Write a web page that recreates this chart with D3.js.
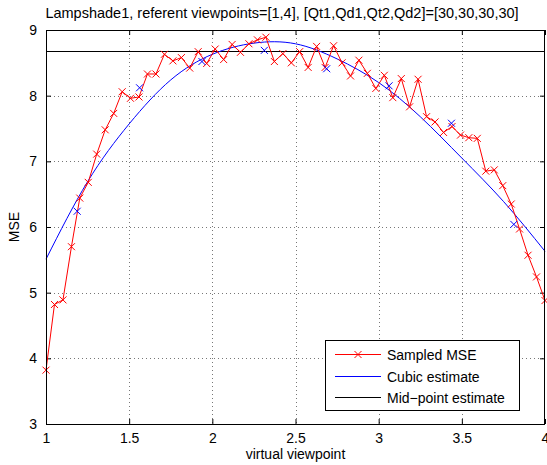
<!DOCTYPE html>
<html>
<head>
<meta charset="utf-8">
<script src="https://d3js.org/d3.v7.min.js"></script>
<style>
body { margin: 0; background: #fff; }
text { font-family: "Liberation Sans", Arial, sans-serif; fill: #000; }
</style>
</head>
<body>
<svg id="chart" width="547" height="465"></svg>
<script>
// sampled viewpoints (60 samples between 1 and 4)
var viewpoints = [1.000, 1.051, 1.102, 1.153, 1.203, 1.254, 1.305, 1.356, 1.407, 1.458,
                  1.508, 1.559, 1.610, 1.661, 1.712, 1.763, 1.814, 1.864, 1.915, 1.966,
                  2.017, 2.068, 2.119, 2.169, 2.220, 2.271, 2.322, 2.373, 2.424, 2.475,
                  2.525, 2.576, 2.627, 2.678, 2.729, 2.780, 2.831, 2.881, 2.932, 2.983,
                  3.034, 3.085, 3.136, 3.186, 3.237, 3.288, 3.339, 3.390, 3.441, 3.492,
                  3.542, 3.593, 3.644, 3.695, 3.746, 3.797, 3.847, 3.898, 3.949, 4.000];
var sampledMSE = [3.82, 4.82, 4.89, 5.70, 6.44, 6.68, 7.11, 7.48, 7.73, 8.06,
                  7.96, 7.98, 8.33, 8.33, 8.63, 8.53, 8.58, 8.42, 8.67, 8.49,
                  8.71, 8.55, 8.78, 8.66, 8.79, 8.85, 8.89, 8.52, 8.64, 8.50,
                  8.67, 8.43, 8.75, 8.43, 8.76, 8.50, 8.30, 8.54, 8.34, 8.11,
                  8.31, 7.97, 8.26, 7.83, 8.25, 7.68, 7.60, 7.44, 7.53, 7.40,
                  7.36, 7.35, 6.85, 6.87, 6.63, 6.35, 5.97, 5.57, 5.24, 4.88];

// points the cubic was estimated from (blue crosses)
var fitX = [1.1875, 1.5625, 1.9375, 2.3125, 2.6875, 3.0625, 3.4375, 3.8125];
var fitY = [6.24, 8.12, 8.52, 8.69, 8.41, 8.15, 7.58, 6.04];

// cubic estimate
var cubicX = [1.00, 1.25, 1.50, 1.75, 2.00, 2.25, 2.50, 2.75, 3.00, 3.25, 3.50, 3.75, 4.00];
var cubicY = [5.51, 6.69, 7.57, 8.24, 8.63, 8.80, 8.79, 8.56, 8.20, 7.68, 7.05, 6.39, 5.63];

var midPoint = 8.68;

var xTicks = [1, 1.5, 2, 2.5, 3, 3.5, 4];
var yTicks = [3, 4, 5, 6, 7, 8, 9];
var titleText = "Lampshade1, referent viewpoints=[1,4], [Qt1,Qd1,Qt2,Qd2]=[30,30,30,30]";
var legendLabels = ["Sampled MSE", "Cubic estimate", "Mid\u2212point estimate"];

var svg = d3.select("#chart");
var pLeft = 46, pRight = 545, pTop = 30, pBottom = 424;

var x = d3.scaleLinear().domain([1, 4]).range([pLeft, pRight]);
var y = d3.scaleLinear().domain([3, 9]).range([pBottom, pTop]);

// grid
var grid = svg.append("g").attr("stroke", "#777").attr("stroke-width", 1)
    .attr("stroke-dasharray", "1,3");
grid.selectAll(".gx").data(xTicks.slice(1, -1)).enter().append("line")
    .attr("x1", d => Math.round(x(d)) + 0.5).attr("x2", d => Math.round(x(d)) + 0.5)
    .attr("y1", pTop).attr("y2", pBottom);
grid.selectAll(".gy").data(yTicks.slice(1, -1)).enter().append("line")
    .attr("y1", d => Math.round(y(d)) + 0.5).attr("y2", d => Math.round(y(d)) + 0.5)
    .attr("x1", pLeft).attr("x2", pRight);

// axes (ticks inward, on all four sides)
var tickLen = 5;
var xAxisB = d3.axisBottom(x).tickValues(xTicks).tickSize(-tickLen).tickPadding(9)
    .tickFormat(d3.format("~g"));
var xAxisT = d3.axisTop(x).tickValues(xTicks).tickSize(-tickLen).tickFormat("");
var yAxisL = d3.axisLeft(y).tickValues(yTicks).tickSize(-tickLen).tickPadding(9)
    .tickFormat(d3.format("~g"));
var yAxisR = d3.axisRight(y).tickValues(yTicks).tickSize(-tickLen).tickFormat("");

function styleAxis(g) {
  g.select(".domain").remove();
  g.selectAll(".tick line").attr("stroke", "#000");
  g.selectAll("text").style("font-size", "14px").attr("fill", "#000");
}
svg.append("g").attr("transform", "translate(0," + pBottom + ")").call(xAxisB).call(styleAxis);
svg.append("g").attr("transform", "translate(0," + pTop + ")").call(xAxisT).call(styleAxis);
svg.append("g").attr("transform", "translate(" + pLeft + ",0)").call(yAxisL).call(styleAxis);
svg.append("g").attr("transform", "translate(" + pRight + ",0)").call(yAxisR).call(styleAxis);

// mid-point estimate
svg.append("line")
    .attr("x1", x(1)).attr("x2", x(4))
    .attr("y1", Math.round(y(midPoint)) + 0.5).attr("y2", Math.round(y(midPoint)) + 0.5)
    .attr("stroke", "#000").attr("stroke-width", 1);

// cubic estimate
var cubicData = cubicX.map((d, i) => [d, cubicY[i]]);
svg.append("path")
    .datum(cubicData)
    .attr("fill", "none").attr("stroke", "#0000ff").attr("stroke-width", 1)
    .attr("d", d3.line().x(d => x(d[0])).y(d => y(d[1])).curve(d3.curveNatural));

// sampled MSE
var sampled = viewpoints.map((d, i) => [d, sampledMSE[i]]);
svg.append("path")
    .datum(sampled)
    .attr("fill", "none").attr("stroke", "#ff0000").attr("stroke-width", 1)
    .attr("d", d3.line().x(d => x(d[0])).y(d => y(d[1])));

var cross = "M-3.5,-3.5L3.5,3.5M-3.5,3.5L3.5,-3.5";
svg.append("g").selectAll("path").data(sampled).enter().append("path")
    .attr("transform", d => "translate(" + x(d[0]) + "," + y(d[1]) + ")")
    .attr("d", cross).attr("stroke", "#ff0000").attr("fill", "none");

svg.append("g").selectAll("path").data(fitX.map((d, i) => [d, fitY[i]])).enter().append("path")
    .attr("transform", d => "translate(" + x(d[0]) + "," + y(d[1]) + ")")
    .attr("d", cross).attr("stroke", "#0000ff").attr("fill", "none");

// frame
svg.append("rect")
    .attr("x", pLeft + 0.5).attr("y", pTop + 0.5)
    .attr("width", pRight - pLeft - 1).attr("height", pBottom - pTop)
    .attr("fill", "none").attr("stroke", "#000").attr("stroke-width", 1);

// title and labels
svg.append("text").attr("x", 282).attr("y", 18).attr("text-anchor", "middle")
    .style("font-size", "14.5px").text(titleText);
svg.append("text").attr("x", (pLeft + pRight) / 2).attr("y", 459).attr("text-anchor", "middle")
    .style("font-size", "14px").text("virtual viewpoint");
svg.append("text").attr("transform", "translate(19," + (pTop + pBottom) / 2 + ") rotate(-90)")
    .attr("text-anchor", "middle").style("font-size", "14px").text("MSE");

// legend
var legend = svg.append("g");
legend.append("rect").attr("x", 325.5).attr("y", 340.5).attr("width", 194).attr("height", 70)
    .attr("fill", "#fff").attr("stroke", "#000");
var legendColors = ["#ff0000", "#0000ff", "#000000"];
legendLabels.forEach(function(lab, i) {
  var ly = Math.round(354 + i * 21.5) + 0.5;
  legend.append("line").attr("x1", 335).attr("x2", 381).attr("y1", ly).attr("y2", ly)
      .attr("stroke", legendColors[i]).attr("stroke-width", 1);
  if (i == 0) legend.append("path").attr("transform", "translate(358," + ly + ")")
      .attr("d", cross).attr("stroke", "#ff0000").attr("fill", "none");
  legend.append("text").attr("x", 387).attr("y", ly + 5).style("font-size", "14px").text(lab);
});
</script>
</body>
</html>
